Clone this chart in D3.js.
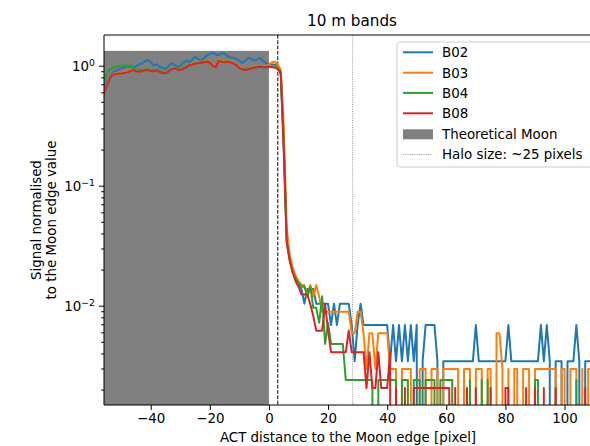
<!DOCTYPE html>
<html><head><meta charset="utf-8">
<script src="https://cdn.jsdelivr.net/npm/d3@7"></script>
<style>
body{margin:0;background:#fff}
svg{display:block}
text{font-family:"DejaVu Sans",sans-serif;fill:#000}
</style>
</head><body>
<svg id="c" width="590" height="446"></svg>
<script>
// ---------- data (x index starts at xStart, step 1 pixel) ----------
const xStart = -56;
const bandNames = ["B02", "B03", "B04", "B08"];
const bandColors = ["#1f77b4", "#ff7f0e", "#2ca02c", "#d62728"];
const b02 = [
0.62,0.72,0.8,0.87,0.9,0.93,0.95,0.97,0.98,1.0,
0.97,0.99,1.02,1.05,1.08,1.12,1.07,1.0,1.03,0.98,
0.96,0.94,0.99,1.05,1.02,0.97,1.0,1.06,1.1,1.07,
1.12,1.18,1.14,1.11,1.15,1.22,1.25,1.29,1.24,1.22,
1.27,1.26,1.2,1.17,1.16,1.14,1.1,1.05,1.1,1.16,
1.14,1.1,1.13,1.16,1.1,1.05,1.04,1.03,1.02,1.0,
0.85,0.24,0.037,0.025,0.02,0.017,0.015,0.0138,0.0104,0.0138,
0.0138,0.0138,0.0104,0.0104,0.0104,0.0104,0.0104,0.0069,0.0104,0.0069,
0.0104,0.0104,0.0104,0.0104,0.0069,0.00345,0.0069,0.0104,0.0069,0.0069,
0.0069,0.0069,0.0069,0.0069,0.0069,0.0069,0.0069,0.00345,0.0069,0.00345,
0.0069,0.00345,0.0069,0.00345,0.0069,0.00345,0.0069,0,0.00345,0.0069,
0.0069,0.0069,0.0069,0.00345,0,0.00345,0.00345,0.00345,0.00345,0.00345,
0.00345,0.00345,0.00345,0.00345,0.00345,0.00345,0.0069,0.00345,0.00345,0.00345,
0.00345,0.00345,0.00345,0.00345,0.00345,0.00345,0.00345,0.0069,0.00345,0.00345,
0.00345,0.00345,0.00345,0.00345,0.00345,0.00345,0.00345,0.00345,0.0069,0.00345,
0.0069,0.00345,0,0.00345,0.00345,0.00345,0,0.00345,0.00345,0.00345,
0.0069,0.00345,0,0.00345,0.00345,0.00345,0.00345,0.00345,0.00345
];
const b03 = [
0.58,0.67,0.77,0.85,0.86,0.87,0.87,0.88,0.89,0.91,
0.93,0.91,0.9,0.91,0.92,0.93,0.91,0.91,0.92,0.9,
0.88,0.875,0.9,0.94,0.96,0.94,0.93,0.95,0.98,1.03,
1.04,1.06,1.07,1.08,1.09,1.1,1.08,1.02,0.99,1.13,
1.1,1.09,1.1,1.09,1.06,1.03,0.98,0.95,0.94,0.95,
0.97,0.98,0.99,1.0,0.99,0.99,1.02,1.07,1.08,1.02,
0.93,0.32,0.045,0.027,0.021,0.018,0.016,0.0149,0.0149,0.0119,
0.0149,0.0119,0.0149,0.0119,0.0089,0.0089,0.0089,0.0089,0.0089,0.0089,
0.0089,0.0089,0.0089,0.0089,0.0059,0.0059,0.0089,0.0089,0.0059,0.00297,
0.0059,0.0059,0.00297,0.0059,0.0059,0.0059,0.0059,0.00297,0.00297,0.00297,
0,0.00297,0.00297,0.00297,0.00297,0,0,0.00297,0.00297,0.00297,
0,0.00297,0.00297,0.00297,0,0.00297,0.00297,0.00297,0.00297,0.00297,
0.00297,0,0.00297,0.00297,0.00297,0,0.00297,0.00297,0.00297,0,
0.00297,0.00297,0,0.0059,0.0059,0.00297,0,0.00297,0,0.00297,
0.00297,0,0.00297,0.00297,0.00297,0,0.00297,0.00297,0.00297,0.00297,
0.00297,0.00297,0.00297,0.00297,0,0.00297,0.00297,0,0.00297,0.00297,
0.00297,0,0.00297,0,0.00297,0.00297,0.00297,0.00297,0.00297
];
const b04 = [
0.72,0.84,0.92,0.96,0.98,0.99,1.0,1.01,1.0,0.98,
0.96,0.93,0.92,0.92,0.93,0.94,0.92,0.92,0.93,0.91,
0.89,0.88,0.91,0.94,0.96,0.94,0.93,0.95,0.98,1.02,
1.03,1.05,1.06,1.07,1.08,1.09,1.07,1.0,0.98,1.11,
1.09,1.08,1.09,1.08,1.05,1.02,0.96,0.94,0.93,0.95,
0.96,0.97,0.98,0.99,0.98,0.98,0.99,0.99,0.98,0.96,
0.88,0.22,0.034,0.024,0.019,0.017,0.0155,0.0144,0.0144,0.012,
0.0144,0.0096,0.0096,0.0072,0.012,0.0048,0.0072,0.0048,0.0048,0.0048,
0.0048,0.0048,0.0024,0.0024,0.0024,0.0024,0.0024,0.0024,0.0024,0.0024,
0.0024,0.0024,0,0.0024,0.0024,0.0024,0.0024,0.0024,0.0024,0.0024,
0,0.0024,0.0024,0.0024,0,0.0024,0.0024,0.0024,0,0.0024,
0.0024,0.0024,0.0024,0,0.0024,0.0024,0.0024,0.0024,0.0024,0,
0,0,0,0,0.0024,0,0,0,0.0024,0,
0.0024,0,0,0,0,0,0,0,0,0,
0,0,0,0,0,0,0.0024,0.0024,0,0,
0,0,0,0,0,0,0,0,0,0,
0.0024,0,0,0,0,0,0,0,0
];
const b08 = [
0.57,0.66,0.76,0.84,0.85,0.86,0.86,0.87,0.88,0.9,
0.92,0.9,0.89,0.9,0.91,0.92,0.9,0.9,0.91,0.89,
0.87,0.865,0.89,0.93,0.95,0.93,0.92,0.94,0.97,1.01,
1.02,1.04,1.05,1.06,1.07,1.08,1.06,1.0,0.97,1.1,
1.08,1.07,1.08,1.07,1.04,1.01,0.96,0.93,0.92,0.93,
0.95,0.96,0.97,0.98,0.97,0.97,0.98,0.97,0.96,0.94,
0.86,0.2,0.034,0.024,0.019,0.016,0.0144,0.0124,0.0124,0.0124,
0.0103,0.0082,0.0062,0.0062,0.0062,0.0103,0.0062,0.0041,0.0041,0.0041,
0.0041,0.0041,0.0041,0.0062,0.0041,0.0041,0.0041,0.0041,0.0041,0.00206,
0.0041,0.00206,0.00206,0.0041,0.00206,0.00206,0.00206,0.0041,0,0.00206,
0,0,0.00206,0,0,0.00206,0.00206,0.00206,0.00206,0.00206,
0.00206,0.00206,0.00206,0.00206,0.00206,0.00206,0.00206,0.00206,0,0.00206,
0,0,0,0.00206,0,0,0.00206,0,0,0,
0,0.00206,0,0,0,0,0.00206,0.00206,0,0,
0,0,0,0.00206,0,0,0.00206,0,0,0.00206,
0,0,0,0.00206,0,0,0,0,0,0,
0,0,0,0.00206,0,0,0,0,0
];
const bandValues = [b02, b03, b04, b08];
const moonExtent = [-56, 0];      // theoretical Moon span [pixel]
const moonTop = [1.33];           // top of the Moon patch
const edgeLine = [3];             // measured Moon edge [pixel]
const haloLine = [28.3];          // halo end [pixel]
const xTicks = [-40, -20, 0, 20, 40, 60, 80, 100];
const yTicks = [1e-2, 1e-1, 1];
const yTickExp = ["\u22122", "\u22121", "0"];
const legendLabels = ["B02", "B03", "B04", "B08", "Theoretical Moon", "Halo size: ~25 pixels"];
const title = "10 m bands";
const xLabel = "ACT distance to the Moon edge [pixel]";
const yLabel = ["Signal normalised", "to the Moon edge value"];

// ---------- layout ----------
const L = 104, R = 600, T = 35, B = 405;
const svg = d3.select("#c");
const x = d3.scaleLinear().domain([-55.8, 112]).range([L, R]);
const y = d3.scaleLog().domain([0.001488, 1.803]).range([B, T]);
const FS = 13.4;

svg.append("defs").append("clipPath").attr("id", "clip")
  .append("rect").attr("x", L).attr("y", T).attr("width", R - L).attr("height", B - T);

const plot = svg.append("g").attr("clip-path", "url(#clip)");

// Moon patch
plot.append("rect")
  .attr("x", x(moonExtent[0])).attr("y", y(moonTop[0]))
  .attr("width", x(moonExtent[1]) - x(moonExtent[0]))
  .attr("height", B - y(moonTop[0]))
  .attr("fill", "#808080");

// Edge & halo lines
plot.append("line").attr("x1", x(edgeLine[0])).attr("x2", x(edgeLine[0]))
  .attr("y1", T).attr("y2", B).attr("stroke", "#000").attr("stroke-width", 1)
  .attr("stroke-dasharray", "3.7,1.6");
plot.append("line").attr("x1", x(haloLine[0])).attr("x2", x(haloLine[0]))
  .attr("y1", T).attr("y2", B).attr("stroke", "#7a7a7a").attr("stroke-width", 0.8)
  .attr("stroke-dasharray", "1,1.3");

// Series
const line = d3.line()
  .x((d, i) => x(xStart + i))
  .y(d => y(d > 0 ? d : 1e-30));
bandValues.forEach((vals, k) => {
  plot.append("path").datum(vals)
    .attr("d", line)
    .attr("fill", "none")
    .attr("stroke", bandColors[k])
    .attr("stroke-width", 2)
    .attr("stroke-linejoin", "round");
});

// Axes
const xAxis = d3.axisBottom(x).tickValues(xTicks).tickSize(5).tickPadding(3.5)
  .tickSizeOuter(0).tickFormat(d => (d < 0 ? "\u2212" + Math.abs(d) : d));
const gx = svg.append("g").attr("transform", `translate(0,${B})`).call(xAxis);
gx.select(".domain").remove();
gx.selectAll(".tick text").attr("font-size", FS).attr("font-family", "DejaVu Sans");

const minors = [];
[1e-3, 1e-2, 1e-1].forEach(dec => { for (let m = 2; m <= 9; m++) minors.push(m * dec); });
const yMinor = d3.axisLeft(y).tickValues(minors.filter(v => v >= 0.001488 && v <= 1.803))
  .tickSize(2.8).tickFormat("");
const gym = svg.append("g").attr("transform", `translate(${L},0)`).call(yMinor);
gym.select(".domain").remove();

const yAxis = d3.axisLeft(y).tickValues(yTicks).tickSize(5).tickPadding(3.5).tickFormat("");
const gy = svg.append("g").attr("transform", `translate(${L},0)`).call(yAxis);
gy.select(".domain").remove();
gy.selectAll(".tick").each(function (d, i) {
  const t = d3.select(this).append("text")
    .attr("x", -9).attr("dy", "0.36em").attr("text-anchor", "end")
    .attr("font-size", FS).attr("fill", "#000");
  t.append("tspan").text("10");
  t.append("tspan").attr("dy", "-0.5em").attr("font-size", FS * 0.7).text(yTickExp[i]);
});

// spines
svg.append("line").attr("x1", L).attr("x2", L).attr("y1", T).attr("y2", B).attr("stroke", "#000").attr("stroke-width", 1);
svg.append("line").attr("x1", L).attr("x2", R).attr("y1", B).attr("y2", B).attr("stroke", "#000").attr("stroke-width", 1);
svg.append("line").attr("x1", L).attr("x2", R).attr("y1", T).attr("y2", T).attr("stroke", "#000").attr("stroke-width", 1);

// Labels
svg.append("text").attr("x", (L + R) / 2).attr("y", 26).attr("text-anchor", "middle")
  .attr("font-size", 15.2).text(title);
svg.append("text").attr("x", (L + R) / 2 - 4).attr("y", 442).attr("text-anchor", "middle")
  .attr("font-size", FS).text(xLabel);
const yl = svg.append("text").attr("transform", `translate(41,${(T + B) / 2}) rotate(-90)`)
  .attr("text-anchor", "middle").attr("font-size", FS);
yl.append("tspan").attr("x", 0).attr("y", 0).text(yLabel[0]);
yl.append("tspan").attr("x", 0).attr("y", 14.5).text(yLabel[1]);

// Legend
const lg = svg.append("g");
lg.append("rect").attr("x", 397).attr("y", 42).attr("width", 197).attr("height", 125)
  .attr("rx", 3).attr("fill", "#fff").attr("fill-opacity", 0.8)
  .attr("stroke", "#cccccc").attr("stroke-width", 1);
const rowY = [52.3, 72.7, 92.9, 113.3, 134.3, 154.5];
legendLabels.forEach((lab, i) => {
  const yy = rowY[i];
  if (i < 4) {
    lg.append("line").attr("x1", 403).attr("x2", 433).attr("y1", yy).attr("y2", yy)
      .attr("stroke", bandColors[i]).attr("stroke-width", 2);
  } else if (i === 4) {
    lg.append("rect").attr("x", 403).attr("y", yy - 5).attr("width", 30).attr("height", 10)
      .attr("fill", "#808080");
  } else {
    lg.append("line").attr("x1", 403).attr("x2", 433).attr("y1", yy).attr("y2", yy)
      .attr("stroke", "#7a7a7a").attr("stroke-width", 0.8).attr("stroke-dasharray", "1,1.3");
  }
  lg.append("text").attr("x", 442).attr("y", yy + 4.8).attr("font-size", FS).text(lab);
});
</script>
</body></html>
